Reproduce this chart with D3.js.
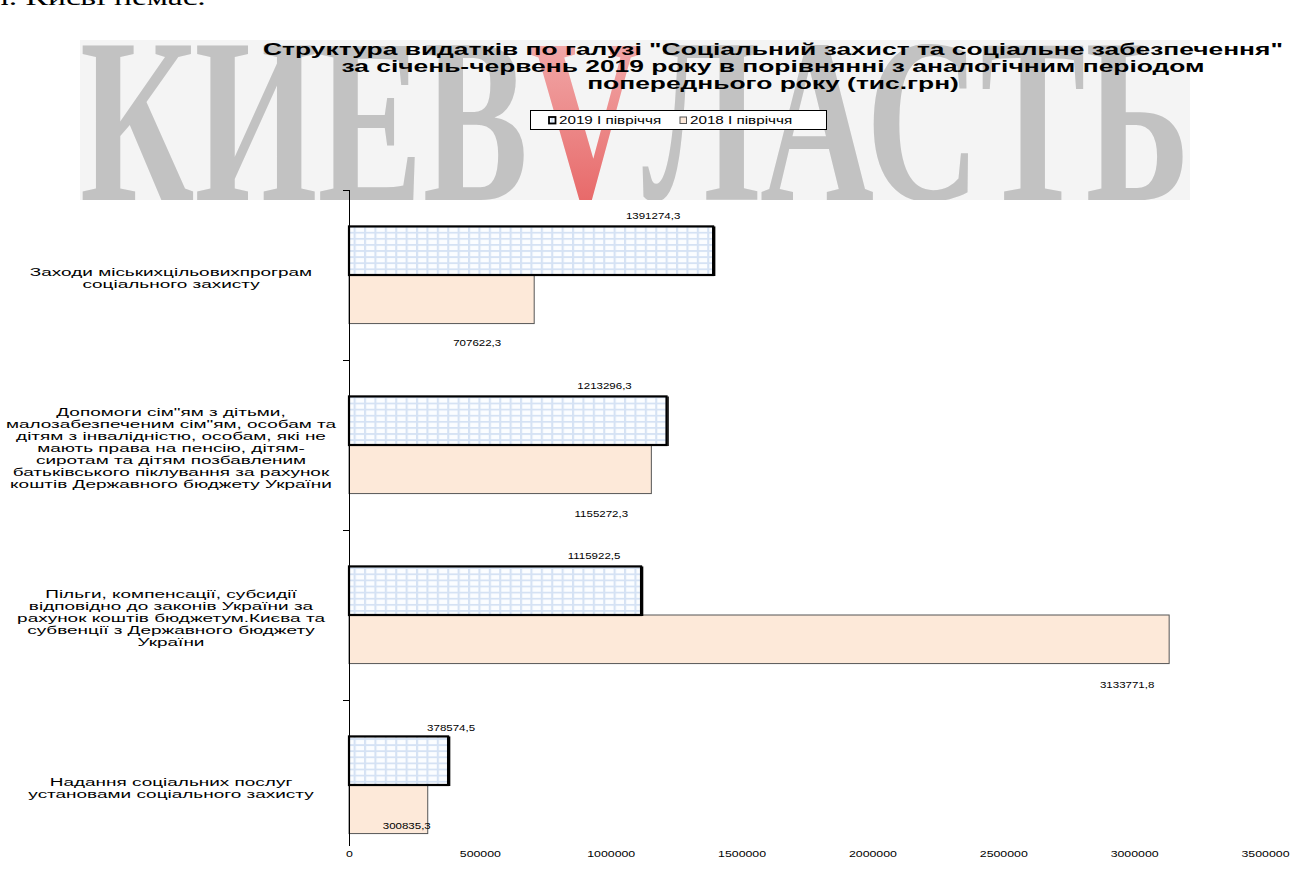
<!DOCTYPE html>
<html><head><meta charset="utf-8">
<script src="https://cdn.jsdelivr.net/npm/d3@7"></script>
<style>
html,body{margin:0;padding:0;background:#fff;}
svg{display:block;}
text{font-family:"Liberation Sans",Arial,sans-serif;}
</style></head>
<body>
<svg id="c" width="1302" height="888"></svg>
<script>
// ---- data ----
const categories = [
  ["Заходи міськихцільовихпрограм","соціального захисту"],
  ["Допомоги сім\"ям з дітьми,","малозабезпеченим сім\"ям, особам та","дітям з  інвалідністю, особам, які не","мають права на пенсію, дітям-","сиротам та дітям позбавленим","батьківського піклування за рахунок","коштів Державного бюджету України"],
  ["Пільги,  компенсації, субсидії","відповідно до законів України за","рахунок коштів бюджетум.Києва та","субвенції з Державного бюджету","України"],
  ["Надання соціальних послуг","установами соціального захисту"]
];
const seriesNames = ["2019 І півріччя","2018 І півріччя"];
const values2019 = [1391274.3, 1213296.3, 1115922.5, 378574.5];
const values2018 = [707622.3, 1155272.3, 3133771.8, 300835.3];
const labels2019 = ["1391274,3","1213296,3","1115922,5","378574,5"];
const labels2018 = ["707622,3","1155272,3","3133771,8","300835,3"];
const xTicks = [0,500000,1000000,1500000,2000000,2500000,3000000,3500000];
const titleLines = [
  "Структура видатків по галузі \"Соціальний захист та соціальне забезпечення\"",
  "за січень-червень 2019 року в порівнянні  з аналогічним періодом",
  "попереднього року (тис.грн)"
];

// ---- layout (not data) ----
const lbl19 = [{dx:-60,dy:-7},{dx:-62,dy:-7},{dx:-47,dy:-7},{dx:3,dy:-5}];
const lbl18 = [{dx:-57,dy:22},{dx:-50,dy:23},{dx:-42,dy:24},{dx:-21,dy:-5}];

const svg = d3.select("#c");
const defs = svg.append("defs");

// horizontally stretched text helper
function stext(sel, x, y, str, size, anchor, sx, weight){
  return sel.append("text")
    .attr("transform",`translate(${x},${y}) scale(${sx},1)`)
    .attr("text-anchor",anchor).style("font-size",size+"px")
    .style("font-weight",weight||"normal").attr("fill","#000").text(str);
}

// grid pattern for 2019
const pat = defs.append("pattern").attr("id","grid").attr("patternUnits","userSpaceOnUse")
  .attr("width",10.4).attr("height",6.1);
pat.append("rect").attr("width",10.4).attr("height",6.1).attr("fill","#d5e2f4");
pat.append("rect").attr("x",2.1).attr("y",1.8).attr("width",8.3).attr("height",4.3).attr("fill","#fbfdff");

// watermark
const grad = defs.append("linearGradient").attr("id","vgrad").attr("x1",0).attr("y1",0).attr("x2",0).attr("y2",1);
grad.append("stop").attr("offset","0%").attr("stop-color","#f4b4b4");
grad.append("stop").attr("offset","100%").attr("stop-color","#e23a3a");
defs.append("clipPath").attr("id","wm").append("rect").attr("x",80).attr("y",40).attr("width",1110).attr("height",160);
const wg = svg.append("g").attr("clip-path","url(#wm)");
wg.append("rect").attr("x",80).attr("y",40).attr("width",1110).attr("height",160).attr("fill","#f4f4f4");
const wt = wg.append("text").attr("x",80).attr("y",200)
  .attr("textLength",1110).attr("lengthAdjust","spacingAndGlyphs")
  .style("font-family","'Liberation Serif',serif").style("font-weight","bold")
  .style("font-size","236px").attr("fill","#c2c2c2");
wt.append("tspan").text("КИЕВ");
wt.append("tspan").attr("fill","url(#vgrad)").attr("fill-opacity",0.85).text("V");
wt.append("tspan").text("ЛАСТЬ");

// cropped text at top
svg.append("text").attr("transform","translate(-8,5) scale(1.4,1)").style("font-family","'Liberation Serif',serif")
  .style("font-size","24px").attr("fill","#000").text("л. Києві немає.");

// title
titleLines.forEach((t,i)=>stext(svg, 773, 55+i*17, t, 16, "middle", 1.65, "bold"));

// legend
const lg = svg.append("g");
lg.append("rect").attr("x",530.5).attr("y",110.5).attr("width",296).attr("height",19)
  .attr("fill","#fff").attr("stroke","#000").attr("stroke-width",1);
[[0,549,"url(#grid)","#000",1.8],[1,680,"#fde9d9","#555",1]].forEach(([i,lx,f,s,w])=>{
  lg.append("rect").attr("x",lx).attr("y",117).attr("width",6.5).attr("height",6.5)
    .attr("fill",f).attr("stroke",s).attr("stroke-width",w);
  stext(lg, lx+10, 124, seriesNames[i], 10.5, "start", 1.45);
});

// scales
const x = d3.scaleLinear().domain([0,3500000]).range([349,1265]);
const y = d3.scaleBand().domain(d3.range(categories.length)).range([190,870]).paddingInner(0).paddingOuter(0);
const ys = d3.scaleBand().domain([0,1]).range([0,y.bandwidth()]).paddingInner(0).paddingOuter(0.75);

// bars
const g = svg.append("g");
categories.forEach((c,i)=>{
  const v19 = values2019[i], v18 = values2018[i];
  const y19 = y(i)+ys(0), y18 = y(i)+ys(1), h = ys.bandwidth();
  g.append("rect").attr("x",x(0)).attr("y",y18).attr("width",x(v18)-x(0)).attr("height",h)
    .attr("fill","#fde9d9").attr("stroke","#555").attr("stroke-width",1);
  g.append("rect").attr("x",x(0)).attr("y",y19).attr("width",x(v19)-x(0)).attr("height",h)
    .attr("fill","url(#grid)").attr("stroke","#000").attr("stroke-width",2.2);
  g.append("line").attr("x1",x(v19)+1.5).attr("x2",x(v19)+1.5).attr("y1",y19).attr("y2",y19+h+1)
    .attr("stroke","#000").attr("stroke-width",1.5);
  stext(g, x(v19)+lbl19[i].dx, y19+lbl19[i].dy, labels2019[i], 9, "middle", 1.28);
  stext(g, x(v18)+lbl18[i].dx, y18+h+lbl18[i].dy, labels2018[i], 9, "middle", 1.28);
  // category label
  const n = c.length, lh = 11.9;
  const cy = y(i)+y.bandwidth()/2 + 3;
  c.forEach((line,k)=>stext(g, 171, cy + (k-(n-1)/2)*lh + 4, line, 11.5, "middle", 1.65));
  g.append("line").attr("x1",343).attr("x2",349).attr("y1",y(i)+0.5).attr("y2",y(i)+0.5).attr("stroke","#000");
});
// category axis line
g.append("line").attr("x1",349.5).attr("x2",349.5).attr("y1",190).attr("y2",846).attr("stroke","#000").attr("stroke-width",1);

// value axis
const xa = svg.append("g").attr("transform","translate(0,844)")
  .call(d3.axisBottom(x).tickValues(xTicks).tickSize(0).tickPadding(6).tickFormat(d3.format("d")));
xa.select(".domain").remove();
xa.selectAll("text").attr("transform","scale(1.3,1)")
  .attr("x",function(d){ return 0; })
  .style("font-family","'Liberation Sans',Arial,sans-serif").style("font-size","9.5px").attr("fill","#000");
</script>
</body></html>
